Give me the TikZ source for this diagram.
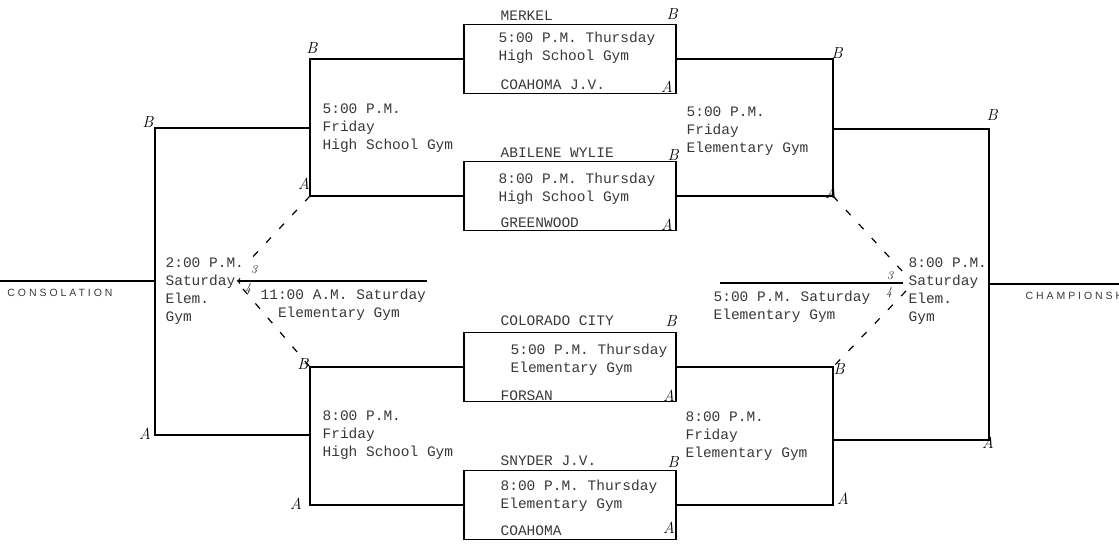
\documentclass[tikz,border=0pt]{standalone}
\usepackage{fontspec}
\setmonofont{Liberation Mono}
\newfontfamily\capsfont[LetterSpace=28]{Liberation Sans}
\tikzstyle{every node}=[inner sep=0pt,text=black!78]
\tikzstyle{game}=[draw=black,minimum width=212pt,minimum height=69pt]
\tikzstyle{note}=[anchor=base west,align=left,font=\ttfamily\fontsize{14.5}{18}\selectfont]
\tikzstyle{hand}=[text=black,font=\rmfamily\itshape\fontsize{16}{16}\selectfont]
\tikzstyle{tag}=[text=black,font=\rmfamily\itshape\fontsize{12}{12}\selectfont]
\tikzstyle{round}=[font=\capsfont\fontsize{10.5}{10.5}\selectfont]
\tikzstyle{dash line}=[dash pattern=on 7pt off 12pt]

\begin{document}
\begin{tikzpicture}[x=1pt,y=-1pt,line width=1.2pt]
	\useasboundingbox (0,0) rectangle (1119,547);
	% thursday games
	\node (g1) [game] at (570,59) {};
	\node (g2) [game] at (570,196) {};
	\node (g3) [game] at (570,367) {};
	\node (g4) [game] at (570,505) {};
	\node (t1) [note] at (500,20) {MERKEL};
	\node (t2) [note] at (498,60) {5:00 P.M. Thursday\\High School Gym};
	\node (t3) [note] at (500,89) {COAHOMA J.V.};
	\node (t4) [note] at (500,157) {ABILENE WYLIE};
	\node (t5) [note] at (498,201) {8:00 P.M. Thursday\\High School Gym};
	\node (t6) [note] at (500,227) {GREENWOOD};
	\node (t7) [note] at (500,325) {COLORADO CITY};
	\node (t8) [note] at (510,372) {5:00 P.M. Thursday\\Elementary Gym};
	\node (t9) [note] at (500,400) {FORSAN};
	\node (t10) [note] at (500,465) {SNYDER J.V.};
	\node (t11) [note] at (500,508) {8:00 P.M. Thursday\\Elementary Gym};
	\node (t12) [note] at (500,535) {COAHOMA};
	% bracket corners
	\coordinate (a1) at (310,59);
	\coordinate (a2) at (310,196);
	\coordinate (a3) at (310,367);
	\coordinate (a4) at (310,505);
	\coordinate (b1) at (833,59);
	\coordinate (b2) at (833,196);
	\coordinate (b3) at (833,367);
	\coordinate (b4) at (833,505);
	\coordinate (s1) at (310,128);
	\coordinate (s2) at (310,435);
	\coordinate (c1) at (155,128);
	\coordinate (c2) at (155,435);
	\coordinate (u1) at (833,129);
	\coordinate (u2) at (833,440);
	\coordinate (d1) at (989,129);
	\coordinate (d2) at (989,440);
	\coordinate (cm) at (155,281);
	\coordinate (cons) at (0,281);
	\coordinate (dm) at (989,284);
	\coordinate (champ) at (1119,284);
	\coordinate (l1) at (237,281);
	\coordinate (l2) at (427,281);
	\coordinate (r1) at (720,283);
	\coordinate (r2) at (903,283);
	\coordinate (p1) at (248,262);
	\coordinate (p2) at (243,289);
	\coordinate (q1) at (903,272);
	\coordinate (q2) at (906,291);
	% brackets
	\draw (g1.west) -- (a1) -- (a2) -- (g2.west);
	\draw (g3.west) -- (a3) -- (a4) -- (g4.west);
	\draw (g1.east) -- (b1) -- (b2) -- (g2.east);
	\draw (g3.east) -- (b3) -- (b4) -- (g4.east);
	\draw (s1) -- (c1) -- (c2) -- (s2);
	\draw (u1) -- (d1) -- (d2) -- (u2);
	\draw (cm) -- (cons);
	\draw (dm) -- (champ);
	\draw [->] (l2) -- (l1);
	\draw (r1) -- (r2);
	\draw [dash line] (a2) -- (p1);
	\draw [dash line] (p2) -- (a3);
	\draw [dash line] (b2) -- (q1);
	\draw [dash line] (q2) -- (b3);
	% friday and saturday games
	\node (f1) [note] at (322,149) {5:00 P.M.\\Friday\\High School Gym};
	\node (f2) [note] at (322,456) {8:00 P.M.\\Friday\\High School Gym};
	\node (f3) [note] at (686,152) {5:00 P.M.\\Friday\\Elementary Gym};
	\node (f4) [note] at (685,457) {8:00 P.M.\\Friday\\Elementary Gym};
	\node (f5) [note] at (165,321) {2:00 P.M.\\Saturday\\Elem.\\Gym};
	\node (f6) [note] at (260,317) {11:00 A.M. Saturday\\\hspace*{1.2em}Elementary Gym};
	\node (f7) [note] at (713,319) {5:00 P.M. Saturday\\Elementary Gym};
	\node (f8) [note] at (908,321) {8:00 P.M.\\Saturday\\Elem.\\Gym};
	\node (k1) [round] at (60,293) {CONSOLATION};
	\node (k2) [round,anchor=west] at (1025,296) {CHAMPIONSHIP};
	% handwritten marks
	\node (h1) [hand] at (148,122) {B};
	\node (h2) [hand] at (145,434) {A};
	\node (h3) [hand] at (312,48) {B};
	\node (h4) [hand] at (304,184) {A};
	\node (h5) [hand] at (303,364) {B};
	\node (h6) [hand] at (296,504) {A};
	\node (h7) [hand] at (672,14) {B};
	\node (h8) [hand] at (667,87) {A};
	\node (h9) [hand] at (673,155) {B};
	\node (h10) [hand] at (667,225) {A};
	\node (h11) [hand] at (671,321) {B};
	\node (h12) [hand] at (669,396) {A};
	\node (h13) [hand] at (673,462) {B};
	\node (h14) [hand] at (669,528) {A};
	\node (h15) [hand] at (837,53) {B};
	\node (h16) [hand] at (831,193) {A};
	\node (h17) [hand] at (839,369) {B};
	\node (h18) [hand] at (843,499) {A};
	\node (h19) [hand] at (992,115) {B};
	\node (h20) [hand] at (988,443) {A};
	\node (h21) [tag] at (254,270) {3};
	\node (h22) [tag] at (248,289) {4};
	\node (h23) [tag] at (890,276) {3};
	\node (h24) [tag] at (889,293) {4};
\end{tikzpicture}
\end{document}
